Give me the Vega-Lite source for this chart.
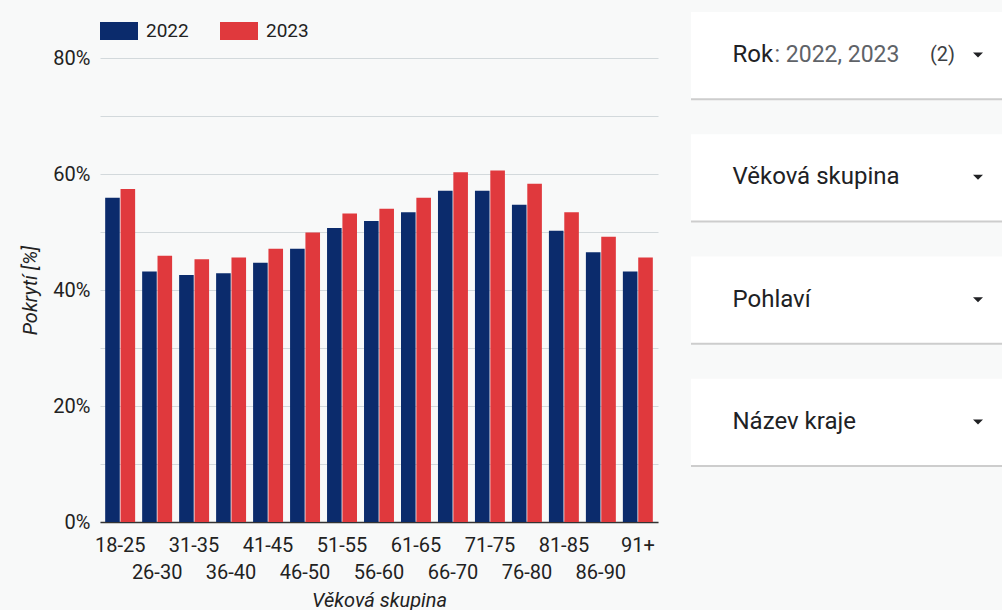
{
  "$schema": "https://vega.github.io/schema/vega-lite/v6.json",
  "background": "#f8f9f9",
  "padding": {"left": 20, "top": 12, "right": 0, "bottom": 0},
  "spacing": 31,
  "config": {"view": {"stroke": null}, "font": "Roboto"},
  "datasets": {
    "pokryti": [
      {"skupina": "18-25", "rok": "2022", "pokryti": 55.9},
      {"skupina": "18-25", "rok": "2023", "pokryti": 57.4},
      {"skupina": "26-30", "rok": "2022", "pokryti": 43.2},
      {"skupina": "26-30", "rok": "2023", "pokryti": 45.9},
      {"skupina": "31-35", "rok": "2022", "pokryti": 42.6},
      {"skupina": "31-35", "rok": "2023", "pokryti": 45.3},
      {"skupina": "36-40", "rok": "2022", "pokryti": 42.9},
      {"skupina": "36-40", "rok": "2023", "pokryti": 45.6},
      {"skupina": "41-45", "rok": "2022", "pokryti": 44.7},
      {"skupina": "41-45", "rok": "2023", "pokryti": 47.1},
      {"skupina": "46-50", "rok": "2022", "pokryti": 47.1},
      {"skupina": "46-50", "rok": "2023", "pokryti": 49.9},
      {"skupina": "51-55", "rok": "2022", "pokryti": 50.7},
      {"skupina": "51-55", "rok": "2023", "pokryti": 53.2},
      {"skupina": "56-60", "rok": "2022", "pokryti": 51.9},
      {"skupina": "56-60", "rok": "2023", "pokryti": 54.0},
      {"skupina": "61-65", "rok": "2022", "pokryti": 53.4},
      {"skupina": "61-65", "rok": "2023", "pokryti": 55.9},
      {"skupina": "66-70", "rok": "2022", "pokryti": 57.1},
      {"skupina": "66-70", "rok": "2023", "pokryti": 60.3},
      {"skupina": "71-75", "rok": "2022", "pokryti": 57.1},
      {"skupina": "71-75", "rok": "2023", "pokryti": 60.6},
      {"skupina": "76-80", "rok": "2022", "pokryti": 54.7},
      {"skupina": "76-80", "rok": "2023", "pokryti": 58.3},
      {"skupina": "81-85", "rok": "2022", "pokryti": 50.2},
      {"skupina": "81-85", "rok": "2023", "pokryti": 53.4},
      {"skupina": "86-90", "rok": "2022", "pokryti": 46.5},
      {"skupina": "86-90", "rok": "2023", "pokryti": 49.2},
      {"skupina": "91+", "rok": "2022", "pokryti": 43.2},
      {"skupina": "91+", "rok": "2023", "pokryti": 45.6}
    ],
    "filtry": [
      {"filtr": "Rok", "hodnota": ": 2022, 2023", "pocet": "(2)"},
      {"filtr": "Věková skupina", "hodnota": "", "pocet": ""},
      {"filtr": "Pohlaví", "hodnota": "", "pocet": ""},
      {"filtr": "Název kraje", "hodnota": "", "pocet": ""}
    ]
  },
  "hconcat": [
    {
      "width": 558,
      "height": 464,
      "data": {"name": "pokryti"},
      "mark": {"type": "bar"},
      "encoding": {
        "x": {
          "field": "skupina",
          "type": "nominal",
          "sort": null,
          "scale": {"paddingInner": 0.19, "paddingOuter": 0.14},
          "title": "Věková skupina",
          "axis": {
            "labelAngle": 0,
            "ticks": false,
            "grid": false,
            "domainColor": "#333333",
            "domainWidth": 1.5,
            "labelFontSize": 20,
            "labelColor": "#222222",
            "labelPadding": 13,
            "labelLineHeight": 27,
            "labelOverlap": false,
            "labelExpr": "indexof(['26-30','36-40','46-50','56-60','66-70','76-80','86-90'], datum.label) >= 0 ? ['', datum.label] : datum.label",
            "titleFontSize": 20,
            "titleFontStyle": "italic",
            "titleFontWeight": "normal",
            "titleColor": "#222222",
            "titlePadding": 8
          }
        },
        "xOffset": {"field": "rok", "type": "nominal", "scale": {"paddingInner": 0.05}},
        "y": {
          "field": "pokryti",
          "type": "quantitative",
          "scale": {"domain": [0, 80], "nice": false},
          "title": "Pokrytí [%]",
          "axis": {
            "values": [0, 10, 20, 30, 40, 50, 60, 70, 80],
            "labelExpr": "datum.value % 20 == 0 ? datum.value + '%' : ''",
            "domain": false,
            "ticks": false,
            "tickSize": 0,
            "gridColor": "#d3d9dc",
            "labelFontSize": 20,
            "labelColor": "#222222",
            "labelPadding": 10,
            "titleFontSize": 20,
            "titleFontStyle": "italic",
            "titleFontWeight": "normal",
            "titleColor": "#222222",
            "titlePadding": 12
          }
        },
        "color": {
          "field": "rok",
          "type": "nominal",
          "scale": {"domain": ["2022", "2023"], "range": ["#0b2b6c", "#e0393d"]},
          "legend": {
            "orient": "none",
            "legendX": 0,
            "legendY": -46,
            "direction": "horizontal",
            "title": null,
            "symbolType": "M-1,-0.47H1V0.47H-1Z",
            "symbolSize": 1444,
            "symbolStrokeWidth": 0,
            "symbolOpacity": 1,
            "labelFontSize": 19,
            "labelColor": "#222222",
            "labelOffset": 8,
            "columnPadding": 31,
            "padding": 0
          }
        }
      }
    },
    {
      "width": 314,
      "height": 407,
      "data": {"name": "filtry"},
      "encoding": {
        "y": {
          "field": "filtr",
          "type": "nominal",
          "sort": null,
          "axis": null,
          "scale": {"paddingInner": 0.295, "paddingOuter": 0, "range": [-46, 407]}
        }
      },
      "layer": [
        {
          "mark": {"type": "rule", "color": "#cdcdcd", "strokeWidth": 4},
          "encoding": {
            "y": {"field": "filtr", "type": "nominal", "sort": null, "bandPosition": 1, "axis": null}
          }
        },
        {
          "mark": {"type": "rect", "color": "#ffffff"}
        },
        {
          "mark": {"type": "text", "align": "left", "fontSize": 24, "color": "#202124"},
          "encoding": {
            "x": {"datum": 41.5, "type": "quantitative", "scale": {"domain": [0, 314], "nice": false, "zero": false}, "axis": null},
            "text": {"field": "filtr"}
          }
        },
        {
          "mark": {"type": "text", "align": "left", "fontSize": 23, "color": "#5f6368"},
          "encoding": {
            "x": {"datum": 83.5, "type": "quantitative"},
            "text": {"field": "hodnota"}
          }
        },
        {
          "mark": {"type": "text", "align": "left", "fontSize": 20, "color": "#3c4043"},
          "encoding": {
            "x": {"datum": 239, "type": "quantitative"},
            "text": {"field": "pocet"}
          }
        },
        {
          "mark": {"type": "point", "shape": "M-1,-0.5L1,-0.5L0,0.5Z", "size": 100, "filled": true, "opacity": 1, "color": "#202124"},
          "encoding": {
            "x": {"datum": 287, "type": "quantitative"}
          }
        }
      ]
    }
  ]
}
